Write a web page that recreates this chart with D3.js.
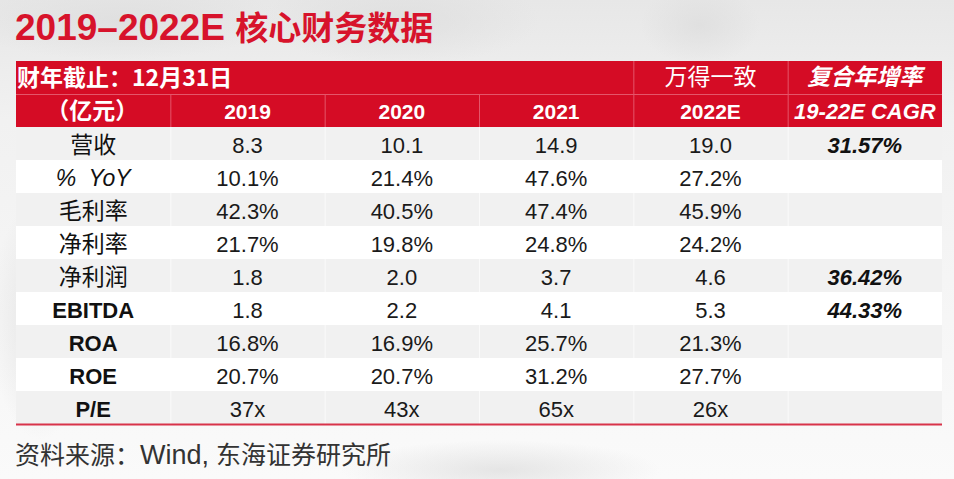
<!DOCTYPE html>
<html>
<head>
<meta charset="utf-8">
<script src="https://cdn.jsdelivr.net/npm/d3@7"></script>
<style>
html,body{margin:0;padding:0;background:#f4f4f4;}
svg{display:block;}
</style>
</head>
<body>
<svg id="chart" width="954" height="479"></svg>
<script>
// ---- data ----
const title = "2019–2022E ";
const titleCn = "核心财务数据";
const fiscalNote = "财年截止：12月31日";
const unitNote = "（亿元）";
const consensusNote = "万得一致";
const cagrNote = "复合年增率";
const cagrHeader = "19-22E CAGR";
const years = ["2019", "2020", "2021", "2022E"];
const rowLabels = ["营收", "% YoY", "毛利率", "净利率", "净利润", "EBITDA", "ROA", "ROE", "P/E"];
const revenue     = [8.3, 10.1, 14.9, 19.0];
const yoy         = [10.1, 21.4, 47.6, 27.2];
const grossMargin = [42.3, 40.5, 47.4, 45.9];
const netMargin   = [21.7, 19.8, 24.8, 24.2];
const netProfit   = [1.8, 2.0, 3.7, 4.6];
const ebitda      = [1.8, 2.2, 4.1, 5.3];
const roa         = [16.8, 16.9, 25.7, 21.3];
const roe         = [20.7, 20.7, 31.2, 27.7];
const pe          = [37, 43, 65, 26];
const cagr        = [31.57, null, null, null, 36.42, 44.33, null, null, null];
const source = "资料来源：Wind, 东海证券研究所";

// ---- build table rows ----
const fmt1 = d3.format(".1f");
const pct = v => fmt1(v) + "%";
const rows = [
  {label: rowLabels[0], values: revenue.map(fmt1), style: "cn"},
  {label: rowLabels[1], values: yoy.map(pct), style: "it"},
  {label: rowLabels[2], values: grossMargin.map(pct), style: "cn"},
  {label: rowLabels[3], values: netMargin.map(pct), style: "cn"},
  {label: rowLabels[4], values: netProfit.map(fmt1), style: "cn"},
  {label: rowLabels[5], values: ebitda.map(fmt1), style: "b"},
  {label: rowLabels[6], values: roa.map(pct), style: "b"},
  {label: rowLabels[7], values: roe.map(pct), style: "b"},
  {label: rowLabels[8], values: pe.map(v => v + "x"), style: "b"}
];
rows.forEach((r, i) => r.cagr = cagr[i] == null ? "" : d3.format(".2f")(cagr[i]) + "%");

const svg = d3.select("#chart");
const W = 954, H = 479;
const LAT = "'Liberation Sans', Arial, 'Noto Sans CJK SC', sans-serif";
const CJK = "'Noto Sans CJK SC', 'Liberation Sans', sans-serif";
const RED = "#d50c25";

// background
const defs = svg.append("defs");
const g1 = defs.append("linearGradient").attr("id", "bg").attr("x1", 0).attr("y1", 0).attr("x2", 0).attr("y2", 1);
g1.append("stop").attr("offset", "0%").attr("stop-color", "#e7e7e7");
g1.append("stop").attr("offset", "25%").attr("stop-color", "#f1f1f1");
g1.append("stop").attr("offset", "100%").attr("stop-color", "#fafafa");
const rg = defs.append("radialGradient").attr("id", "blob");
rg.append("stop").attr("offset", "0%").attr("stop-color", "#dcdcdc").attr("stop-opacity", 0.7);
rg.append("stop").attr("offset", "100%").attr("stop-color", "#dcdcdc").attr("stop-opacity", 0);
svg.append("rect").attr("width", W).attr("height", H).attr("fill", "url(#bg)");
[[120, 20, 160, 40], [400, 20, 140, 45], [700, 25, 60, 40], [40, 320, 50, 120], [500, 470, 160, 30]].forEach(b => {
  svg.append("ellipse").attr("cx", b[0]).attr("cy", b[1]).attr("rx", b[2]).attr("ry", b[3]).attr("fill", "url(#blob)");
});

// scales
const colKeys = ["label", ...years, "cagr"];
const x = d3.scaleBand().domain(colKeys).range([16, 942]);
const y = d3.scaleBand().domain(rowLabels).range([127, 424]);
const hdrTop = 61, hdrMid = 94, hdrBot = 127;

// title
const t = svg.append("text").attr("x", 15).attr("y", 40).attr("fill", "#d7132b").attr("font-weight", "bold");
t.append("tspan").attr("font-family", LAT).attr("font-size", 37).text(title);
t.append("tspan").attr("font-family", CJK).attr("font-size", 33).text(titleCn);

// header background
svg.append("rect").attr("x", 16).attr("y", hdrTop).attr("width", 942 - 16).attr("height", hdrBot - hdrTop).attr("fill", RED);
const lineC = "#e4566a";
svg.append("line").attr("x1", 16).attr("x2", 942).attr("y1", hdrMid + 0.5).attr("y2", hdrMid + 0.5).attr("stroke", lineC).attr("stroke-width", 1);
// header row 1 dividers (first cells merged)
["2022E", "cagr"].forEach(k => {
  svg.append("line").attr("x1", x(k) + 0.5).attr("x2", x(k) + 0.5).attr("y1", hdrTop).attr("y2", hdrMid).attr("stroke", lineC);
});
colKeys.slice(1).forEach(k => {
  svg.append("line").attr("x1", x(k) + 0.5).attr("x2", x(k) + 0.5).attr("y1", hdrMid).attr("y2", hdrBot).attr("stroke", lineC);
});

const cx = k => x(k) + x.bandwidth() / 2;
// header texts
svg.append("text").attr("x", 17).attr("y", 86).attr("fill", "#fff").attr("font-family", CJK)
  .attr("font-weight", "bold").attr("font-size", 23).text(fiscalNote);
svg.append("text").attr("x", cx("2022E")).attr("y", 85).attr("text-anchor", "middle").attr("fill", "#fff")
  .attr("font-family", CJK).attr("font-size", 23).text(consensusNote);
svg.append("text").attr("x", cx("cagr")).attr("y", 85).attr("text-anchor", "middle").attr("fill", "#fff")
  .attr("font-family", CJK).attr("font-style", "italic").attr("font-weight", "bold").attr("font-size", 23).text(cagrNote);
svg.append("text").attr("x", cx("label") - 1).attr("y", 119).attr("text-anchor", "middle").attr("fill", "#fff")
  .attr("font-family", CJK).attr("font-weight", "bold").attr("font-size", 23).text(unitNote);
svg.selectAll("text.yr").data(years).join("text").attr("class", "yr")
  .attr("x", d => cx(d)).attr("y", 119).attr("text-anchor", "middle").attr("fill", "#fff")
  .attr("font-family", LAT).attr("font-weight", "bold").attr("font-size", 21).text(d => d);
svg.append("text").attr("x", cx("cagr")).attr("y", 119).attr("text-anchor", "middle").attr("fill", "#fff")
  .attr("font-family", LAT).attr("font-weight", "bold").attr("font-style", "italic").attr("font-size", 22).text(cagrHeader);

// data rows
const rg2 = svg.append("g");
const row = rg2.selectAll("g.row").data(rows).join("g").attr("class", "row");
row.append("rect").attr("x", 16).attr("y", d => y(d.label)).attr("width", 942 - 16).attr("height", y.bandwidth())
  .attr("fill", (d, i) => i % 2 === 0 ? "#f1f1f1" : "#ffffff");
row.each(function(d, i) {
  const g = d3.select(this);
  if (i % 2 === 0) {
    colKeys.slice(1).forEach(k => {
      g.append("line").attr("x1", x(k) + 0.5).attr("x2", x(k) + 0.5)
        .attr("y1", y(d.label)).attr("y2", y(d.label) + y.bandwidth()).attr("stroke", "#fafafa");
    });
  }
  const base = y(d.label) + 26;
  const lab = g.append("text").attr("x", cx("label")).attr("y", base).attr("text-anchor", "middle").attr("fill", "#111");
  if (d.style === "cn") lab.attr("font-family", CJK).attr("font-size", 23).text(d.label);
  else if (d.style === "it") lab.attr("font-family", LAT).attr("font-style", "italic").attr("font-size", 23).attr("xml:space", "preserve").text("%  YoY");
  else lab.attr("font-family", LAT).attr("font-weight", "bold").attr("font-size", 22).text(d.label);
  years.forEach((yr, j) => {
    g.append("text").attr("x", cx(yr)).attr("y", base).attr("text-anchor", "middle").attr("fill", "#1a1a1a")
      .attr("font-family", LAT).attr("font-size", 22).text(d.values[j]);
  });
  if (d.cagr) {
    g.append("text").attr("x", cx("cagr")).attr("y", base).attr("text-anchor", "middle").attr("fill", "#111")
      .attr("font-family", LAT).attr("font-weight", "bold").attr("font-style", "italic").attr("font-size", 22).text(d.cagr);
  }
});

// bottom red line
svg.append("line").attr("x1", 16).attr("x2", 942).attr("y1", 424.5).attr("y2", 424.5).attr("stroke", "#d8334a").attr("stroke-width", 2);

// source
const s = svg.append("text").attr("x", 15).attr("y", 464).attr("fill", "#333").attr("font-size", 25).attr("font-family", CJK);
s.append("tspan").text("资料来源：");
s.append("tspan").attr("font-family", LAT).attr("font-size", 27).text("Wind,");
s.append("tspan").attr("font-family", LAT).text(" ");
s.append("tspan").text("东海证券研究所");
</script>
</body>
</html>
